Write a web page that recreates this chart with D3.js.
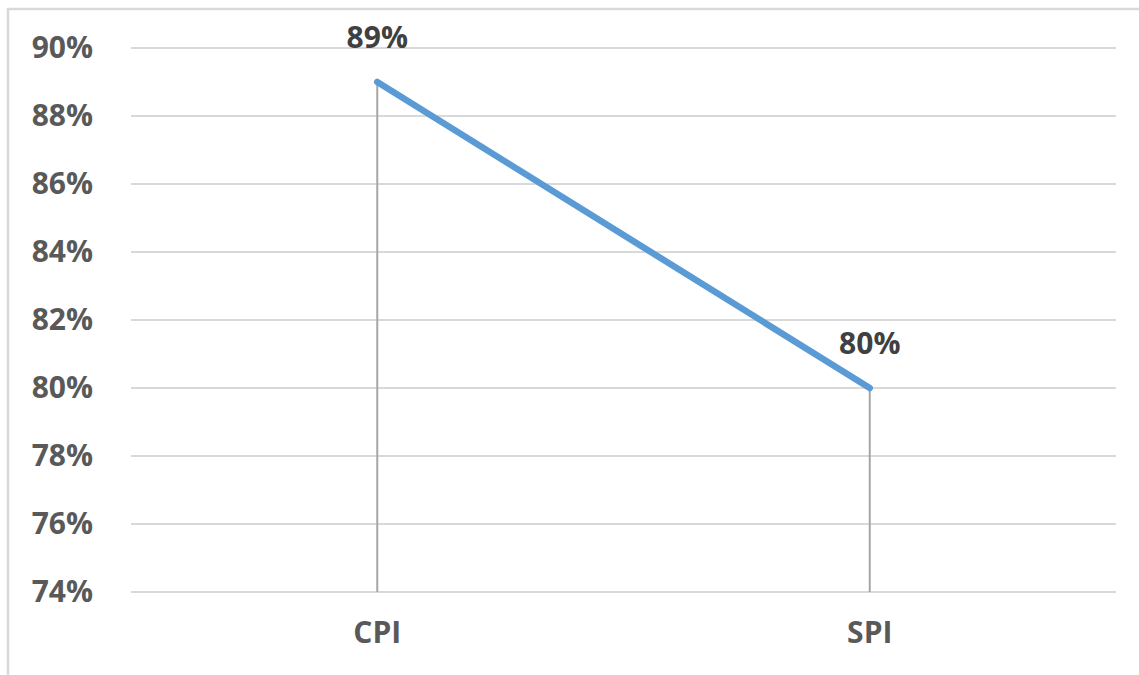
<!DOCTYPE html>
<html>
<head>
<meta charset="utf-8">
<script src="https://cdn.jsdelivr.net/npm/d3@7"></script>
<style>
  html, body { margin: 0; padding: 0; background: #fff; }
  svg { display: block; }
  text { font-family: "Open Sans", "Liberation Sans", sans-serif; font-weight: 700; }
</style>
</head>
<body>
<svg id="chart" width="1139" height="675"></svg>
<script>
// Performance indices
const categories = ["CPI", "SPI"];
const values = [0.89, 0.80];
const yTicks = [0.74, 0.76, 0.78, 0.80, 0.82, 0.84, 0.86, 0.88, 0.90];

const svg = d3.select("#chart");
const W = 1139, H = 675;
const margin = { top: 48, right: 23, bottom: 83, left: 131 };

// Outer frame of the chart area (top and left edges visible)
svg.append("path")
  .attr("d", `M8,${H + 5} L8,9 L${W + 5},9`)
  .attr("fill", "none")
  .attr("stroke", "#d9d9d9")
  .attr("stroke-width", 2.5);

const x = d3.scaleBand()
  .domain(categories)
  .range([margin.left, W - margin.right]);

const y = d3.scaleLinear()
  .domain([0.74, 0.90])
  .range([H - margin.bottom, margin.top]);

const fmt = d3.format(".0%");

// Horizontal gridlines
svg.append("g")
  .selectAll("line")
  .data(yTicks)
  .join("line")
  .attr("x1", margin.left)
  .attr("x2", W - margin.right)
  .attr("y1", d => y(d))
  .attr("y2", d => y(d))
  .attr("stroke", "#d9d9d9")
  .attr("stroke-width", 2);

// Y axis labels
const yAxis = d3.axisLeft(y).tickValues(yTicks).tickFormat(fmt).tickSize(0).tickPadding(38);
const gy = svg.append("g").attr("transform", `translate(${margin.left},0)`).call(yAxis);
gy.select(".domain").remove();
gy.selectAll("text")
  .attr("fill", "#595959")
  .style("font-size", "30px")
  .style("font-family", "'Open Sans', sans-serif")
  .style("font-weight", 700);

// X axis labels
const xAxis = d3.axisBottom(x).tickSize(0).tickPadding(30);
const gx = svg.append("g").attr("transform", `translate(0,${H - margin.bottom})`).call(xAxis);
gx.select(".domain").remove();
gx.selectAll("text")
  .attr("fill", "#595959")
  .style("font-size", "30px")
  .style("font-family", "'Open Sans', sans-serif")
  .style("font-weight", 700);

const pts = categories.map((c, i) => ({ c, v: values[i] }));
const cx = d => x(d.c) + x.bandwidth() / 2;

// Drop lines from each point to the axis
svg.append("g")
  .selectAll("line")
  .data(pts)
  .join("line")
  .attr("x1", cx)
  .attr("x2", cx)
  .attr("y1", d => y(d.v))
  .attr("y2", y(0.74))
  .attr("stroke", "#a6a6a6")
  .attr("stroke-width", 2);

// Series line
svg.append("path")
  .datum(pts)
  .attr("d", d3.line().x(cx).y(d => y(d.v)))
  .attr("fill", "none")
  .attr("stroke", "#5b9bd5")
  .attr("stroke-width", 6.5)
  .attr("stroke-linecap", "round");

// Data labels
svg.append("g")
  .selectAll("text")
  .data(pts)
  .join("text")
  .attr("x", cx)
  .attr("y", d => y(d.v) - 34)
  .attr("text-anchor", "middle")
  .attr("fill", "#404040")
  .style("font-size", "30px")
  .text(d => fmt(d.v));
</script>
</body>
</html>
